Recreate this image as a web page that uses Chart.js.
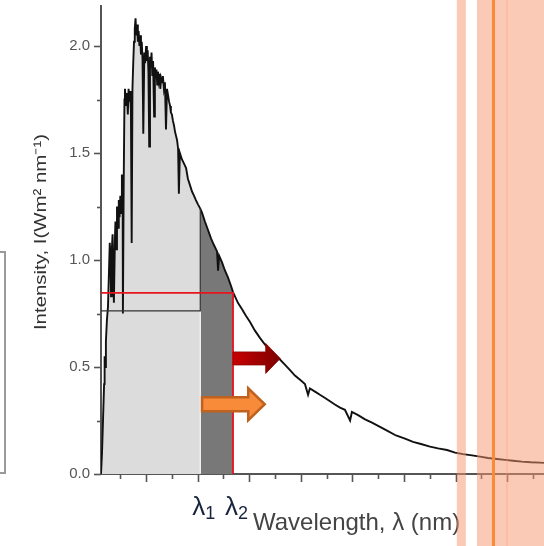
<!DOCTYPE html>
<html>
<head>
<meta charset="utf-8">
<script src="https://cdn.jsdelivr.net/npm/chart.js@4.4.1/dist/chart.umd.min.js"></script>
<style>
  html, body { margin: 0; padding: 0; background: #ffffff; }
  #wrap { position: relative; width: 544px; height: 546px; overflow: hidden; }
  #frag { position: absolute; left: -12px; top: 251px; width: 14px; height: 219px; border: 2px solid #9a9a9a; }
  canvas { position: absolute; left: 0; top: 0; }
</style>
</head>
<body>
<div id="wrap">
  <canvas id="c" width="544" height="546"></canvas>
  <div id="frag"></div>
</div>
<script>
// ---------- data ----------
const WAVELENGTH_NM = [
  225, 229, 233, 237, 239, 242, 244, 248, 252, 256, 259, 262, 264, 267, 270, 272, 275, 279, 281, 284,
  287, 291, 294, 297, 300, 303, 306, 309, 310, 313, 316, 318, 322, 326, 329, 332, 335, 338, 341, 344,
  347, 350, 353, 356, 359, 362, 365, 368, 371, 374, 377, 380, 383, 386, 389, 393, 396, 400, 403, 406,
  409, 412, 415, 418, 421, 424, 427, 431, 434, 437, 440, 443, 446, 449, 452, 455, 458, 462, 465, 469,
  473, 477, 481, 485, 489, 493, 496, 500, 504, 508, 512, 516, 520, 524, 527, 531, 539, 547, 555, 562,
  570, 578, 586, 593, 601, 610, 617, 628, 640, 652, 663, 675, 679, 683, 694, 706, 717, 729, 737, 756,
  772, 787, 803, 822, 842, 861, 880, 900, 919, 939, 958, 977, 997, 1016, 1028, 1035, 1055, 1074, 1094, 1113,
  1132, 1152, 1171, 1191, 1198, 1222, 1249, 1276, 1307, 1338, 1369, 1404, 1435, 1466, 1501, 1532, 1567, 1598, 1629, 1664,
  1695, 1726, 1761, 1792, 1823, 1857, 1892, 1927, 1943
];
const INTENSITY = [
  0.00, 0.10, 0.26, 0.42, 0.55, 0.50, 0.62, 0.72, 0.78, 0.95, 1.08, 1.00, 0.83, 1.05, 1.12, 0.98, 0.80, 1.10, 1.18, 1.05,
  1.25, 1.15, 1.28, 1.20, 1.30, 1.22, 1.40, 1.30, 0.75, 1.35, 1.75, 1.80, 1.72, 1.78, 1.68, 1.80, 1.74, 1.79, 1.70, 1.08,
  1.80, 1.92, 2.02, 2.08, 2.13, 2.05, 2.10, 2.02, 2.07, 2.00, 2.05, 1.96, 2.02, 1.94, 1.59, 1.97, 1.92, 2.00, 1.93, 1.98,
  1.88, 1.53, 1.95, 1.90, 1.97, 1.86, 1.93, 1.67, 1.90, 1.85, 1.89, 1.82, 1.88, 1.84, 1.87, 1.80, 1.85, 1.83, 1.86, 1.80,
  1.83, 1.61, 1.80, 1.77, 1.74, 1.72, 1.69, 1.68, 1.65, 1.63, 1.60, 1.58, 1.56, 1.52, 1.31, 1.50, 1.47, 1.45, 1.43, 1.38,
  1.35, 1.32, 1.30, 1.28, 1.26, 1.24, 1.22, 1.18, 1.14, 1.10, 1.07, 1.04, 0.95, 1.02, 0.99, 0.95, 0.92, 0.88, 0.85, 0.80,
  0.77, 0.74, 0.71, 0.67, 0.635, 0.605, 0.58, 0.555, 0.535, 0.51, 0.485, 0.46, 0.44, 0.42, 0.37, 0.40, 0.385, 0.37, 0.355, 0.34,
  0.325, 0.31, 0.30, 0.25, 0.29, 0.275, 0.255, 0.24, 0.22, 0.20, 0.18, 0.165, 0.15, 0.14, 0.128, 0.12, 0.112, 0.10, 0.093, 0.087,
  0.081, 0.075, 0.07, 0.066, 0.062, 0.058, 0.055, 0.053, 0.052
];
const LAMBDA1_NM = 610;           // boundary of light / dark shading
const LAMBDA2_NM = 737;           // red cut-off line
const LEVEL_BLACK = 0.762;        // black horizontal reference line
const LEVEL_RED = 0.846;          // red horizontal reference line
const X_TICKS_NM = [300, 400, 500, 600, 700, 800, 900, 1000, 1100, 1200, 1300, 1400, 1500, 1600, 1700, 1800, 1900];
const Y_MAJOR = [0, 0.5, 1.0, 1.5, 2.0];
const Y_MINOR = [0.25, 0.75, 1.25, 1.75];
const Y_TICK_LABELS = ['0.0', '0.5', '1.0', '1.5', '2.0'];
// annotation arrows (data units)
const RED_ARROW = { from: 737, to: 920, y: 0.540 };
const ORANGE_ARROW = { from: 617, to: 860, y: 0.326 };
// highlighted bands on the right (data units)
const BANDS_NM = [[1605, 1640], [1683, 1943]];
const BAND_DARK_NM = [1795, 1803];
const ORANGE_LINE_NM = 1747;

// ---------- derived tables ----------
const spectrum = WAVELENGTH_NM.map((x, i) => ({ x, y: INTENSITY[i] }));
const fillLight = spectrum.filter(p => p.x <= LAMBDA1_NM);
const fillDark = spectrum.filter(p => p.x >= LAMBDA1_NM && p.x <= LAMBDA2_NM);
const valAt = (nm) => INTENSITY[WAVELENGTH_NM.indexOf(nm)];
const xMin = WAVELENGTH_NM[0], xMax = WAVELENGTH_NM[WAVELENGTH_NM.length - 1];
const FONT = 'Arial, "Liberation Sans", sans-serif';

function drawArrow(ctx, x0, x1, yc, shaftH, headH, headLen, fill, stroke, lw) {
  const hx = x1 - headLen;
  ctx.beginPath();
  ctx.moveTo(x0, yc - shaftH / 2);
  ctx.lineTo(hx, yc - shaftH / 2);
  ctx.lineTo(hx, yc - headH / 2);
  ctx.lineTo(x1, yc);
  ctx.lineTo(hx, yc + headH / 2);
  ctx.lineTo(hx, yc + shaftH / 2);
  ctx.lineTo(x0, yc + shaftH / 2);
  ctx.closePath();
  ctx.fillStyle = fill;
  ctx.fill();
  if (stroke) { ctx.strokeStyle = stroke; ctx.lineWidth = lw; ctx.lineJoin = 'miter'; ctx.stroke(); }
}

const decor = {
  id: 'decor',
  afterDatasetsDraw(chart) {
    const { ctx, scales: { x, y }, chartArea } = chart;
    ctx.save();
    // tick marks
    ctx.strokeStyle = '#555';
    ctx.lineWidth = 1.6;
    X_TICKS_NM.forEach(v => {
      const px = Math.round(x.getPixelForValue(v)) + 0.5;
      const len = (v % 200 === 0) ? 8 : 5;
      ctx.beginPath(); ctx.moveTo(px, chartArea.bottom); ctx.lineTo(px, chartArea.bottom + len); ctx.stroke();
    });
    Y_MAJOR.forEach(v => {
      const py = Math.round(y.getPixelForValue(v)) + 0.5;
      ctx.beginPath(); ctx.moveTo(chartArea.left, py); ctx.lineTo(chartArea.left - 7, py); ctx.stroke();
    });
    Y_MINOR.forEach(v => {
      const py = Math.round(y.getPixelForValue(v)) + 0.5;
      ctx.beginPath(); ctx.moveTo(chartArea.left, py); ctx.lineTo(chartArea.left - 4, py); ctx.stroke();
    });

    // arrows
    const rx0 = x.getPixelForValue(RED_ARROW.from), rx1 = x.getPixelForValue(RED_ARROW.to), ry = y.getPixelForValue(RED_ARROW.y);
    const g = ctx.createLinearGradient(rx0, 0, rx1, 0);
    g.addColorStop(0, '#c80000'); g.addColorStop(1, '#7c0000');
    drawArrow(ctx, rx0, rx1, ry, 13, 30, 14.5, g, '#8a0000', 0.8);
    const ox0 = x.getPixelForValue(ORANGE_ARROW.from), ox1 = x.getPixelForValue(ORANGE_ARROW.to), oy = y.getPixelForValue(ORANGE_ARROW.y);
    drawArrow(ctx, ox0, ox1, oy, 14, 32, 16.5, '#f78b3a', '#c0621f', 2.5);

    // lambda labels
    ctx.fillStyle = '#18243f';
    ctx.textBaseline = 'alphabetic';
    ctx.textAlign = 'left';
    [[LAMBDA1_NM, '1'], [LAMBDA2_NM, '2']].forEach(([nm, sub]) => {
      const px = x.getPixelForValue(nm);
      ctx.font = '26px ' + FONT;
      ctx.fillText('λ', px - 8, 515);
      const w = ctx.measureText('λ').width;
      ctx.font = '18px ' + FONT;
      ctx.fillText(sub, px - 8 + w, 519);
    });
    // x-axis title
    ctx.fillStyle = '#444';
    ctx.font = '24px ' + FONT;
    ctx.fillText('Wavelength, λ (nm)', 253, 530);
    // y-axis title
    ctx.save();
    ctx.translate(46, 232);
    ctx.rotate(-Math.PI / 2);
    ctx.scale(1.2, 1);
    ctx.textAlign = 'center';
    ctx.fillStyle = '#333';
    ctx.font = '17px ' + FONT;
    ctx.fillText('Intensity, I(Wm² nm⁻¹)', 0, 0);
    ctx.restore();
    ctx.restore();
  },
  afterDraw(chart) {
    const { ctx, scales: { x } } = chart;
    const H = chart.height;
    ctx.save();
    ctx.fillStyle = 'rgba(246,150,112,0.5)';
    BANDS_NM.forEach(([a, b]) => {
      const xa = x.getPixelForValue(a), xb = x.getPixelForValue(b);
      ctx.fillRect(xa, 0, xb - xa, H);
    });
    ctx.fillStyle = 'rgba(246,150,112,0.25)';
    const da = x.getPixelForValue(BAND_DARK_NM[0]), db = x.getPixelForValue(BAND_DARK_NM[1]);
    ctx.fillRect(da, 0, db - da, H);
    ctx.fillStyle = '#f78c35';
    const ol = x.getPixelForValue(ORANGE_LINE_NM);
    ctx.fillRect(ol - 1.5, 0, 3, H);
    ctx.restore();
  }
};

new Chart(document.getElementById('c'), {
  type: 'line',
  data: {
    datasets: [
      { data: [{ x: xMin, y: LEVEL_RED }, { x: LAMBDA2_NM, y: LEVEL_RED }, { x: LAMBDA2_NM, y: 0 }],
        borderColor: '#e8141e', borderWidth: 1.8, fill: false, order: 1 },
      { data: [{ x: xMin, y: LEVEL_BLACK }, { x: LAMBDA1_NM, y: LEVEL_BLACK }, { x: LAMBDA1_NM, y: valAt(LAMBDA1_NM) }],
        borderColor: '#333', borderWidth: 1.2, fill: false, order: 2 },
      { data: [{ x: LAMBDA1_NM, y: 0 }, { x: LAMBDA1_NM, y: LEVEL_BLACK }],
        borderColor: '#ffffff', borderWidth: 1, fill: false, order: 3 },
      { data: spectrum, borderColor: '#111', borderWidth: 1.9, fill: false, order: 4 },
      { data: fillDark, borderWidth: 0, borderColor: 'rgba(0,0,0,0)', backgroundColor: '#787878', fill: 'origin', order: 5 },
      { data: fillLight, borderWidth: 0, borderColor: 'rgba(0,0,0,0)', backgroundColor: '#dcdcdc', fill: 'origin', order: 6 }
    ]
  },
  options: {
    responsive: false,
    animation: false,
    devicePixelRatio: 1,
    layout: { padding: { top: 6, right: 0, left: 0, bottom: 0 } },
    elements: { point: { radius: 0 }, line: { tension: 0 } },
    plugins: { legend: { display: false }, tooltip: { enabled: false } },
    scales: {
      x: {
        type: 'linear', min: xMin, max: xMax,
        grid: { display: false, drawTicks: false },
        border: { display: true, color: '#555', width: 2 },
        ticks: { display: false },
        afterFit(s) { s.height = 72; s.paddingLeft = 0; s.paddingRight = 0; }
      },
      y: {
        min: 0, max: 2.187,
        grid: { display: false, drawTicks: false },
        border: { display: true, color: '#555', width: 2 },
        ticks: {
          stepSize: 0.5, includeBounds: false, padding: 11,
          color: '#555', font: { size: 15, family: FONT },
          callback: (v) => { const i = Y_MAJOR.indexOf(v); return i >= 0 ? Y_TICK_LABELS[i] : ''; }
        },
        afterFit(s) { s.width = 101; s.paddingTop = 0; s.paddingBottom = 0; }
      }
    }
  },
  plugins: [decor]
});
</script>
</body>
</html>
